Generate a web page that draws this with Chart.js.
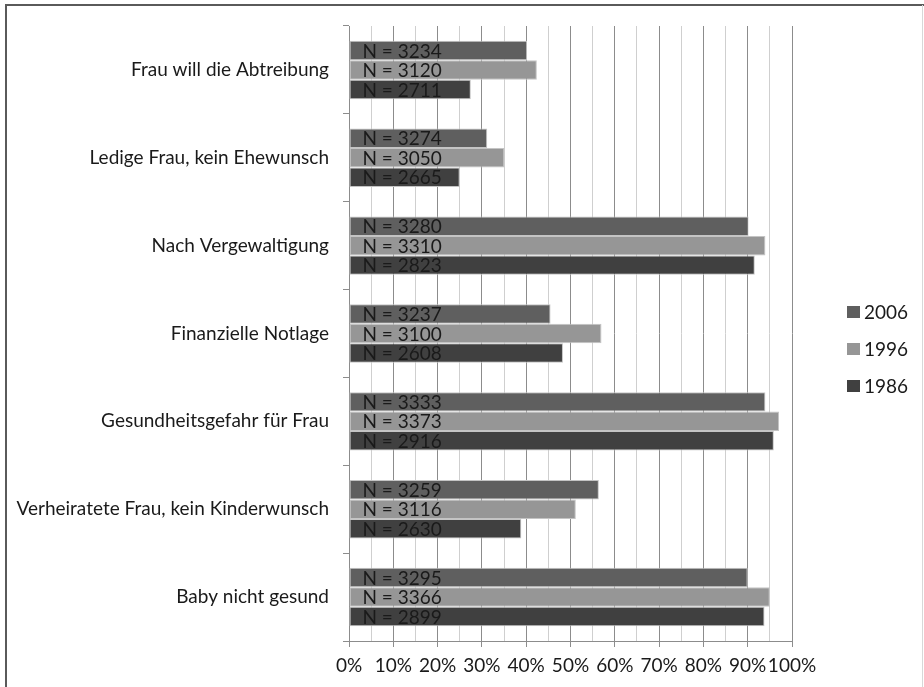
<!DOCTYPE html>
<html>
<head>
<meta charset="utf-8">
<script src="https://cdn.jsdelivr.net/npm/chart.js@4/dist/chart.umd.min.js"></script>
<style>
  html, body { margin: 0; padding: 0; background: #fff; }
  #wrap { width: 924px; height: 687px; position: relative; }
</style>
</head>
<body>
<div id="wrap"><canvas id="c" width="924" height="687"></canvas></div>
<script>
const categories = [
  "Frau will die Abtreibung",
  "Ledige Frau, kein Ehewunsch",
  "Nach Vergewaltigung",
  "Finanzielle Notlage",
  "Gesundheitsgefahr für Frau",
  "Verheiratete Frau, kein Kinderwunsch",
  "Baby nicht gesund"
];
const seriesNames = ["2006", "1996", "1986"];
const values2006 = [40.2, 31.2, 90.2, 45.5, 94.0, 56.4, 90.0];
const values1996 = [42.4, 35.1, 94.0, 57.0, 97.1, 51.2, 95.0];
const values1986 = [27.5, 25.0, 91.6, 48.3, 95.9, 38.9, 93.8];
const n2006 = [3234, 3274, 3280, 3237, 3333, 3259, 3295];
const n1996 = [3120, 3050, 3310, 3100, 3373, 3116, 3366];
const n1986 = [2711, 2665, 2823, 2608, 2916, 2630, 2899];
const xTicks = [0, 10, 20, 30, 40, 50, 60, 70, 80, 90, 100];

const colors = ["#5f5f5f", "#969696", "#404040"];
const FONT = "Lato";

const frame = {
  id: "frame",
  beforeDraw(chart) {
    const ctx = chart.ctx;
    ctx.save();
    ctx.fillStyle = "#fff";
    ctx.fillRect(0, 0, chart.width, chart.height);
    ctx.strokeStyle = "#5a5a5a";
    ctx.lineWidth = 2;
    ctx.beginPath();
    ctx.moveTo(6, chart.height);
    ctx.lineTo(6, 5);
    ctx.lineTo(chart.width, 5);
    ctx.stroke();
    ctx.strokeStyle = "#d8d8d8";
    ctx.lineWidth = 1;
    ctx.beginPath();
    ctx.moveTo(922.5, 5);
    ctx.lineTo(922.5, chart.height);
    ctx.stroke();
    ctx.restore();
  }
};

const nLabels = {
  id: "nLabels",
  afterDatasetsDraw(chart) {
    const ctx = chart.ctx;
    const ns = [n2006, n1996, n1986];
    ctx.save();
    ctx.font = "19px " + FONT;
    ctx.fillStyle = "#1a1a1a";
    ctx.textAlign = "left";
    ctx.textBaseline = "middle";
    chart.data.datasets.forEach((ds, di) => {
      const meta = chart.getDatasetMeta(di);
      meta.data.forEach((bar, i) => {
        ctx.fillText("N = " + ns[di][i], bar.base + 13, bar.y + 1);
      });
    });
    ctx.restore();
  }
};

const legendPlugin = {
  id: "customLegend",
  afterDraw(chart) {
    const ctx = chart.ctx;
    ctx.save();
    ctx.font = "19px " + FONT;
    ctx.textAlign = "left";
    ctx.textBaseline = "middle";
    const y0 = 312, step = 37;
    chart.data.datasets.forEach((ds, i) => {
      const y = y0 + i * step;
      ctx.fillStyle = ds.backgroundColor;
      ctx.fillRect(847, y - 6, 13, 12);
      ctx.fillStyle = "#1a1a1a";
      ctx.fillText(ds.label, 864, y + 1);
    });
    ctx.restore();
  }
};

new Chart(document.getElementById("c"), {
  type: "bar",
  data: {
    labels: categories,
    datasets: [
      { label: seriesNames[0], data: values2006, backgroundColor: colors[0] },
      { label: seriesNames[1], data: values1996, backgroundColor: colors[1] },
      { label: seriesNames[2], data: values1986, backgroundColor: colors[2] }
    ].map(d => Object.assign(d, {
      borderColor: "#c4c4c4",
      borderWidth: 1,
      borderSkipped: false,
      categoryPercentage: 0.665,
      barPercentage: 1.0
    }))
  },
  options: {
    indexAxis: "y",
    responsive: false,
    animation: false,
    devicePixelRatio: 1,
    layout: { padding: { top: 26, right: 132, left: 0, bottom: 0 } },
    plugins: { legend: { display: false }, tooltip: { enabled: false } },
    scales: {
      x: {
        min: 0, max: 100,
        afterBuildTicks(scale) {
          const t = [];
          for (let v = 0; v <= 100; v += 5) t.push({ value: v });
          scale.ticks = t;
        },
        afterFit(scale) { scale.height = 46; },
        ticks: {
          autoSkip: false,
          maxRotation: 0,
          padding: 7,
          color: "#1a1a1a",
          font: { family: FONT, size: 19 },
          callback(v) { return xTicks.includes(v) ? v + "%" : ""; }
        },
        grid: {
          color(c) { return (c.tick && c.tick.value % 10 === 0) ? "#8c8c8c" : "#cfcfcf"; },
          tickColor(c) { return (c.tick && c.tick.value % 10 === 0) ? "#8c8c8c" : "rgba(0,0,0,0)"; },
          tickLength: 6,
          lineWidth: 1
        },
        border: { display: true, color: "#8c8c8c", width: 1 }
      },
      y: {
        afterFit(scale) { scale.width = 349; },
        ticks: {
          padding: 14,
          color: "#1a1a1a",
          font: { family: FONT, size: 19 }
        },
        grid: {
          offset: true,
          drawOnChartArea: false,
          drawTicks: true,
          tickLength: 6,
          tickColor: "#8c8c8c"
        },
        border: { display: true, color: "#8c8c8c", width: 1 }
      }
    }
  },
  plugins: [frame, nLabels, legendPlugin]
});
</script>
</body>
</html>
